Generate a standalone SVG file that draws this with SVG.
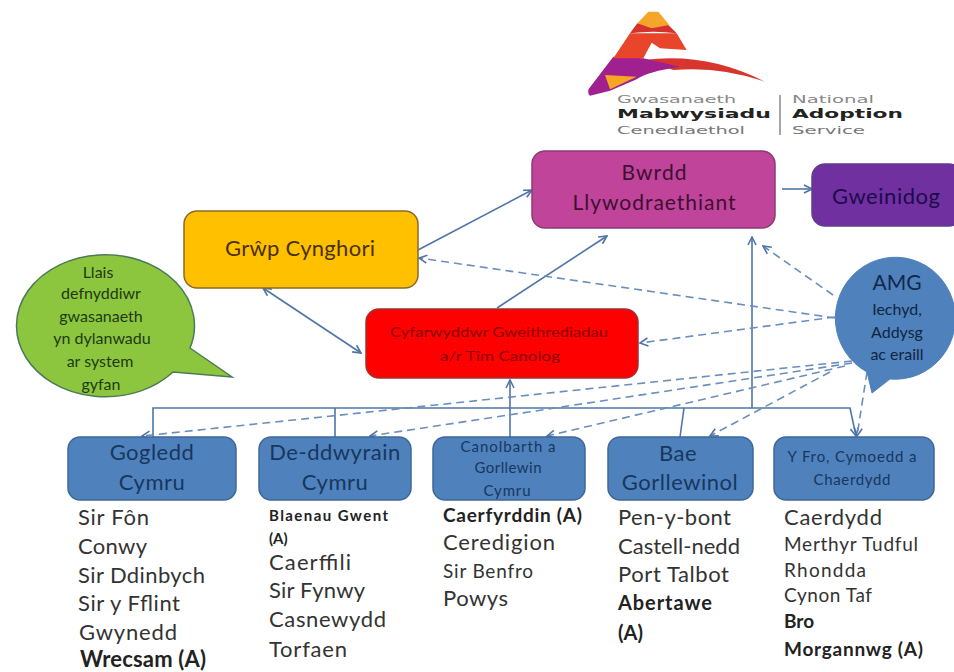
<svg xmlns="http://www.w3.org/2000/svg" width="954" height="672" viewBox="0 0 954 672">
<style>
text{font-family:Lato,"Liberation Sans",sans-serif}
.box{stroke-width:1.5}
.c{text-anchor:middle}
.reg{fill:#4f81bd;stroke:#3f6797}
.rt{fill:#17375e;font-size:22px;letter-spacing:.5px}
.li{fill:#333;font-size:22px}
.m{font-size:19px}
.b{font-weight:700;fill:#222}
.con{fill:none;stroke:#4f75a8;stroke-width:1.6}
.das{stroke-dasharray:8 5;stroke:#6a8fbd}
.logo{font-family:"DejaVu Sans",sans-serif;font-size:11px;fill:#777}
.lb{font-weight:700;fill:#222;font-size:12px}
.sm{font-size:15px;fill:#17375e}
.note{font-size:16px}
</style>
<defs>
<marker id="a" viewBox="0 0 10 10" refX="9" refY="5" markerWidth="10" markerHeight="10" markerUnits="userSpaceOnUse" orient="auto-start-reverse"><path d="M1 1L9 5L1 9" fill="none" stroke="#4f75a8" stroke-width="1.6"/></marker>
</defs>
<rect width="954" height="672" fill="#fff"/>
<g id="logo">
<g transform="translate(580 10) scale(.3333)">
<path d="M190 150Q380 125 555 215Q420 168 280 180Z" fill="#d9352f"/>
<path d="M100 140L190 145L300 170Q200 185 170 208L90 242L30 257Q18 245 30 232Z" fill="#a0208f"/>
<path d="M75 195L170 200L90 238Z" fill="#f5a623"/>
<path d="M100 145L150 70L290 70L320 120L240 115L215 98L190 145Z" fill="#e8452a"/>
<path d="M150 70L172 40L265 45L290 70Q220 60 150 70Z" fill="#d5322f"/>
<path d="M172 40L205 5L235 5L268 45L215 55Z" fill="#f4a62a"/>
</g>
<text class="logo" x="617" y="103" textLength="119" lengthAdjust="spacingAndGlyphs" style="fill:#888">Gwasanaeth</text>
<text class="logo lb" x="617" y="118" textLength="154" lengthAdjust="spacingAndGlyphs">Mabwysiadu</text>
<text class="logo" x="617" y="134" textLength="128" lengthAdjust="spacingAndGlyphs">Cenedlaethol</text>
<path d="M780 95V135" stroke="#888" stroke-width="1.5"/>
<text class="logo" x="792" y="103" textLength="82" lengthAdjust="spacingAndGlyphs" style="fill:#888">National</text>
<text class="logo lb" x="792" y="118" textLength="111" lengthAdjust="spacingAndGlyphs">Adoption</text>
<text class="logo" x="792" y="134" textLength="73" lengthAdjust="spacingAndGlyphs">Service</text>
</g>
<g id="connectors">
<path class="con" d="M418 250L532 190" marker-end="url(#a)"/>
<path class="con" d="M263 288L361 353" marker-start="url(#a)" marker-end="url(#a)"/>
<path class="con" d="M497 308L607 236" marker-end="url(#a)"/>
<path class="con" d="M782 189L812 189" marker-end="url(#a)"/>
<path class="con" d="M153 437V408H850L856 436" marker-end="url(#a)"/>
<path class="con" d="M335 408V437M684 408L680 437"/>
<path class="con" d="M510 437V380" marker-end="url(#a)"/>
<path class="con" d="M752 408V237" marker-end="url(#a)"/>
<path class="con das" d="M833 295L763 246" marker-end="url(#a)"/>
<path class="con das" d="M835 318L419 258" marker-end="url(#a)"/>
<path class="con das" d="M835 317L640 343" marker-end="url(#a)"/>
<path class="con das" d="M852 361L142 436" marker-end="url(#a)"/>
<path class="con das" d="M852 363L370 436" marker-end="url(#a)"/>
<path class="con das" d="M845 366L547 436" marker-end="url(#a)"/>
<path class="con das" d="M830 372L710 436" marker-end="url(#a)"/>
<path class="con das" d="M867 372L857 436" marker-end="url(#a)"/>
</g>
<g id="bwrdd">
<rect class="box" x="532" y="151" width="243" height="77" rx="13" fill="#c0449a" stroke="#8c3a74"/>
<text class="c" x="654" y="180" font-size="21" fill="#3d0f33" textLength="65">Bwrdd</text>
<text class="c" x="654" y="210" font-size="21" fill="#3d0f33" textLength="163">Llywodraethiant</text>
</g>
<g id="gweinidog">
<rect class="box" x="812" y="164" width="150" height="62" rx="13" fill="#7030a0" stroke="#5e3f8c"/>
<text x="832" y="204" font-size="22" fill="#1d0a4d" textLength="108">Gweinidog</text>
</g>
<g id="grwp">
<rect class="box" x="184" y="211" width="234" height="77" rx="13" fill="#ffc000" stroke="#8a6a2a"/>
<text class="c" x="300" y="256" font-size="22" fill="#4a3000" textLength="150">Grŵp Cynghori</text>
</g>
<g id="cyfarwyddwr">
<rect class="box" x="366" y="309" width="272" height="69" rx="13" fill="#f00" stroke="#a03030"/>
<text class="c" x="499" y="337" font-size="14" fill="#800" textLength="218" lengthAdjust="spacingAndGlyphs">Cyfarwyddwr  Gweithrediadau</text>
<text class="c" x="500" y="361" font-size="14" fill="#800" textLength="120" lengthAdjust="spacingAndGlyphs">a/r Tîm  Canolog</text>
</g>
<g id="llais">
<path d="M190 348L232 377L173 372A89 71 0 1 1 190 348Z" fill="#8cc63f" stroke="#4d7a56" stroke-width="1.5"/>
<g class="c note" fill="#1f3a12">
<text x="98" y="278">Llais</text>
<text x="101" y="299">defnyddiwr</text>
<text x="101" y="322">gwasanaeth</text>
<text x="102" y="344">yn dylanwadu</text>
<text x="100" y="367">ar system</text>
<text x="101" y="390">gyfan</text>
</g>
</g>
<g id="amg">
<path d="M867 372A60 61 0 1 1 890 379L872 393Z" fill="#4f81bd" stroke="#4f81bd"/>
<text class="c" x="897" y="290" font-size="21" fill="#10284d">AMG</text>
<g class="c note" fill="#0f2540">
<text x="897" y="315">Iechyd,</text>
<text x="897" y="338">Addysg</text>
<text x="897" y="360">ac eraill</text>
</g>
</g>
<g id="gogledd">
<rect class="box reg" x="68" y="437" width="168" height="63" rx="12"/>
<text class="c rt" x="152" y="460">Gogledd</text>
<text class="c rt" x="152" y="490">Cymru</text>
<g class="li">
<text x="78" y="525" textLength="71">Sir Fôn</text>
<text x="78" y="554" textLength="69">Conwy</text>
<text x="78" y="583" textLength="127">Sir Ddinbych</text>
<text x="78" y="611" textLength="102">Sir y Fflint</text>
<text x="79" y="640" textLength="98">Gwynedd</text>
<text class="b" x="80" y="667" textLength="126">Wrecsam (A)</text>
</g>
</g>
<g id="de-ddwyrain">
<rect class="box reg" x="259" y="437" width="152" height="63" rx="12"/>
<text class="c rt" x="335" y="460">De-ddwyrain</text>
<text class="c rt" x="335" y="490">Cymru</text>
<g class="li">
<text class="b" x="269" y="521" style="font-size:15px" textLength="119">Blaenau  Gwent</text>
<text class="b" x="269" y="544" style="font-size:15px">(A)</text>
<text x="269" y="570" textLength="82">Caerffili</text>
<text x="269" y="598" textLength="96">Sir Fynwy</text>
<text x="269" y="627" textLength="117">Casnewydd</text>
<text x="269" y="657" textLength="78">Torfaen</text>
</g>
</g>
<g id="canolbarth">
<rect class="box reg" x="433" y="437" width="152" height="63" rx="12"/>
<g class="c sm">
<text x="508" y="452" textLength="95">Canolbarth a</text>
<text x="508" y="473" textLength="67">Gorllewin</text>
<text x="507" y="496" textLength="47">Cymru</text>
</g>
<g class="li">
<text class="b" x="443" y="522" style="font-size:19px" textLength="139">Caerfyrddin (A)</text>
<text x="443" y="550" textLength="112">Ceredigion</text>
<text class="m" x="443" y="578" textLength="90">Sir Benfro</text>
<text x="443" y="606" textLength="65">Powys</text>
</g>
</g>
<g id="bae">
<rect class="box reg" x="608" y="437" width="145" height="63" rx="12"/>
<text class="c rt" x="678" y="461">Bae</text>
<text class="c rt" x="680" y="490">Gorllewinol</text>
<g class="li">
<text x="618" y="525" textLength="113">Pen-y-bont</text>
<text x="618" y="554" textLength="122">Castell-nedd</text>
<text x="618" y="582" textLength="111">Port Talbot</text>
<text class="b" x="618" y="610" style="font-size:20px" textLength="94">Abertawe</text>
<text class="b" x="618" y="640" style="font-size:20px">(A)</text>
</g>
</g>
<g id="y-fro">
<rect class="box reg" x="774" y="437" width="160" height="63" rx="12"/>
<g class="c sm">
<text x="852" y="462" textLength="129">Y Fro, Cymoedd a</text>
<text x="852" y="485" textLength="77">Chaerdydd</text>
</g>
<g class="li">
<text x="784" y="525" textLength="98">Caerdydd</text>
<text class="m" x="784" y="551" textLength="134">Merthyr Tudful</text>
<text class="m" x="784" y="577" textLength="82">Rhondda</text>
<text class="m" x="784" y="602" textLength="88">Cynon Taf</text>
<text class="b m" x="784" y="628">Bro</text>
<text class="b m" x="784" y="656" textLength="139">Morgannwg (A)</text>
</g>
</g>
</svg>
